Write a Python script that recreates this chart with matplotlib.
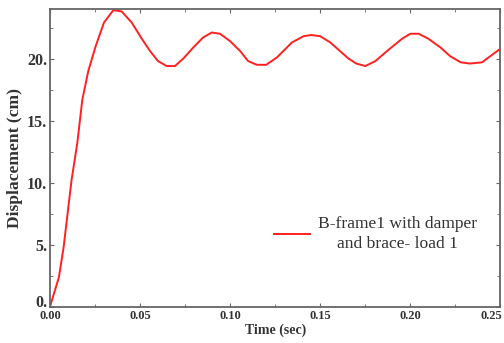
import matplotlib
matplotlib.use("Agg")
import matplotlib.pyplot as plt
import matplotlib.transforms as mtransforms
from matplotlib.ticker import MultipleLocator, FuncFormatter

# time (sec) and displacement (cm)
time = [0.0, 0.005, 0.0076, 0.012, 0.0152, 0.018, 0.0213, 0.0254, 0.030, 0.0352,
        0.0398, 0.0454, 0.051, 0.0556, 0.060, 0.0648, 0.0694, 0.074, 0.0796, 0.085,
        0.0898, 0.0944, 0.100, 0.1056, 0.110, 0.1148, 0.120, 0.126, 0.1343, 0.1407,
        0.145, 0.150, 0.1556, 0.161, 0.1657, 0.170, 0.175, 0.1806, 0.187, 0.1954,
        0.200, 0.2046, 0.210, 0.2167, 0.222, 0.228, 0.233, 0.2398, 0.2444, 0.250]
disp = [0.0, 2.4, 4.8, 10.2, 13.2, 16.7, 19.0, 21.0, 22.9, 23.9,
        23.8, 22.9, 21.6, 20.6, 19.8, 19.4, 19.4, 20.0, 20.9, 21.7,
        22.1, 22.0, 21.4, 20.6, 19.8, 19.5, 19.5, 20.1, 21.3, 21.8,
        21.9, 21.8, 21.3, 20.6, 20.0, 19.6, 19.4, 19.8, 20.6, 21.6,
        22.0, 22.0, 21.6, 20.9, 20.2, 19.7, 19.6, 19.7, 20.2, 20.8]
series_label = "B-frame1 with damper\nand brace- load 1"

plt.rcParams['font.family'] = ['Liberation Serif', 'DejaVu Serif']
txt = '#333333'

fig = plt.figure(figsize=(5.04, 3.43), dpi=100)
ax = fig.add_axes([0.099, 0.105, 0.894, 0.869])

line, = ax.plot(time, disp, color='#ff2020', lw=1.4, label=series_label)

ax.set_xlim(0, 0.25)
ax.set_ylim(0, 24)
ax.xaxis.set_major_locator(MultipleLocator(0.05))
ax.xaxis.set_minor_locator(MultipleLocator(0.025))
ax.yaxis.set_major_locator(MultipleLocator(5))
ax.yaxis.set_minor_locator(MultipleLocator(2.5))
ax.xaxis.set_major_formatter(FuncFormatter(lambda v, p: f"{v:.2f}"))
ax.yaxis.set_major_formatter(FuncFormatter(lambda v, p: f"{int(round(v))}."))

ax.tick_params(which='both', direction='in', top=True, right=True, colors='#666666')
ax.tick_params(which='major', length=3, width=0.8)
ax.tick_params(which='minor', length=2, width=0.6)
ax.tick_params(axis='x', which='major', pad=2, labelsize=9, labelcolor=txt)
ax.tick_params(axis='y', which='major', pad=2, labelsize=11.5, labelcolor=txt)
for t in ax.get_xticklabels() + ax.get_yticklabels():
    t.set_fontweight('bold')

# nudge the corner labels the way the reference has them
fig.canvas.draw()
for t in ax.get_yticklabels():
    if t.get_text() == '0.':
        t.set_transform(t.get_transform() + mtransforms.ScaledTranslation(0, 6 / 100, fig.dpi_scale_trans))
for t in ax.get_xticklabels():
    if t.get_text() == '0.25':
        t.set_transform(t.get_transform() + mtransforms.ScaledTranslation(-9 / 100, 0, fig.dpi_scale_trans))

for s in ax.spines.values():
    s.set_color('#666666')
    s.set_linewidth(1.3)

ax.set_xlabel('Time (sec)', fontsize=10, fontweight='bold', color=txt, labelpad=1)
ax.set_ylabel('Displacement (cm)', fontsize=12.6, fontweight='bold', color=txt, labelpad=3)

leg = ax.legend(loc='center left', bbox_to_anchor=(0.497, 0.245), frameon=False,
                fontsize=12.6, handlelength=2.05, handletextpad=0.45,
                borderpad=0, borderaxespad=0)
for t in leg.get_texts():
    t.set_multialignment('center')
    t.set_linespacing(1.35)
    t.set_color(txt)

fig.savefig('out.png', dpi=100)
